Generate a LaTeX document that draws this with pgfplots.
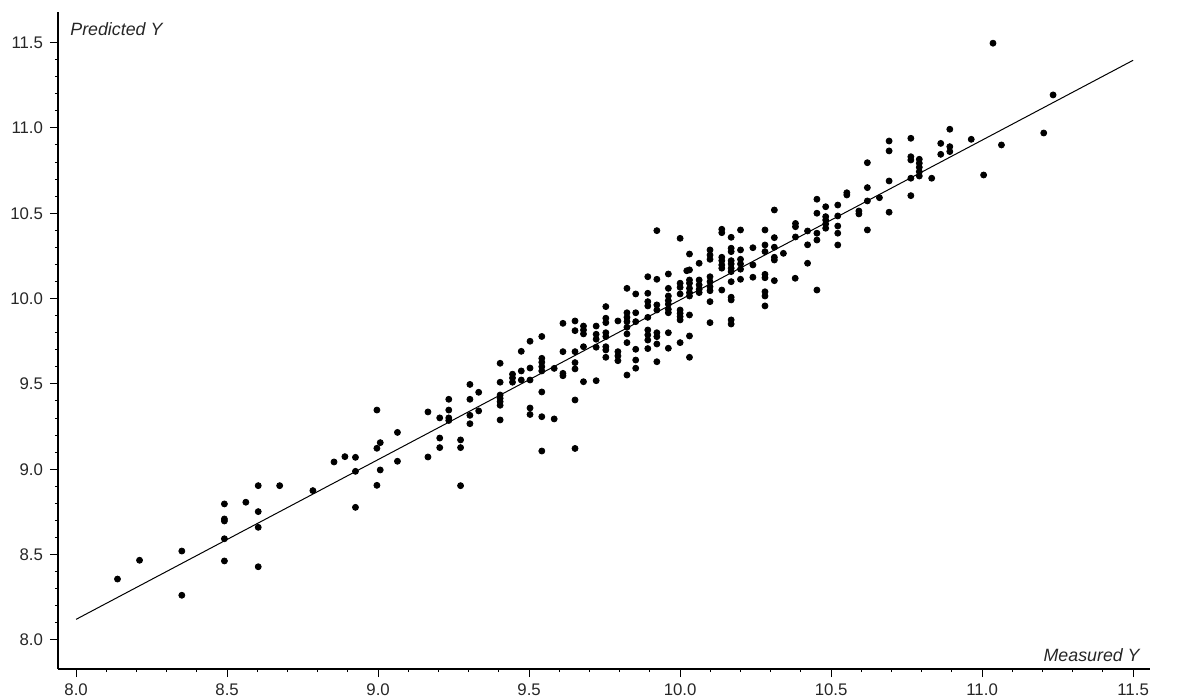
\documentclass[border=0pt]{standalone}
\usepackage{pgfplots}
\pgfplotsset{compat=1.18}
\usepackage{fontspec}
\setmainfont{Liberation Sans}
\begin{document}
\begin{tikzpicture}
\useasboundingbox (-29bp,-15bp) rectangle (565bp,334.5bp);
\begin{axis}[
  at={(0,0)}, anchor=south west,
  x=151bp, y=85.35bp,
  xmin=7.94, xmax=11.556, ymin=7.83, ymax=11.679,
  axis x line=bottom, axis y line=left,
  axis line style={-, black, line width=0.6bp},
  xtick={8,8.5,9,9.5,10,10.5,11,11.5},
  xticklabels={8.0,8.5,9.0,9.5,10.0,10.5,11.0,11.5},
  ytick={8,8.5,9,9.5,10,10.5,11,11.5},
  yticklabels={8.0,8.5,9.0,9.5,10.0,10.5,11.0,11.5},
  minor x tick num=4, minor y tick num=4,
  tick align=outside,
  major tick length=4bp, minor tick length=1.5bp,
  tick style={black, line width=0.5bp},
  ticklabel style={font=\fontsize{8.4bp}{10bp}\selectfont, text=black!85},
  clip=false,
]
\addplot[only marks, mark=*, mark size=1.5bp, black] table {
x y
8.137 8.357
8.210 8.467
8.350 8.521
8.350 8.262
8.491 8.797
8.491 8.709
8.491 8.697
8.491 8.593
8.491 8.463
8.562 8.807
8.603 8.904
8.603 8.752
8.603 8.660
8.603 8.429
8.674 8.904
8.784 8.875
8.854 9.043
8.890 9.074
8.925 9.070
8.925 8.988
8.925 8.777
8.996 9.347
8.996 9.123
8.996 8.906
9.007 9.156
9.007 8.996
9.064 9.216
9.064 9.047
9.165 9.336
9.165 9.072
9.204 9.301
9.204 9.183
9.204 9.127
9.234 9.410
9.234 9.347
9.234 9.301
9.234 9.286
9.273 9.172
9.273 9.127
9.273 8.904
9.304 9.497
9.304 9.410
9.304 9.316
9.304 9.267
9.333 9.451
9.333 9.342
9.404 9.621
9.404 9.510
9.404 9.435
9.404 9.416
9.404 9.396
9.404 9.375
9.404 9.289
9.445 9.557
9.445 9.535
9.445 9.510
9.474 9.691
9.474 9.576
9.474 9.523
9.503 9.750
9.503 9.593
9.503 9.523
9.503 9.359
9.503 9.321
9.542 9.778
9.542 9.650
9.542 9.627
9.542 9.601
9.542 9.576
9.542 9.453
9.542 9.308
9.542 9.107
9.583 9.591
9.583 9.295
9.612 9.855
9.612 9.689
9.612 9.562
9.612 9.548
9.652 9.869
9.652 9.812
9.652 9.689
9.652 9.625
9.652 9.588
9.652 9.406
9.652 9.122
9.680 9.839
9.680 9.816
9.680 9.793
9.680 9.718
9.680 9.513
9.722 9.839
9.722 9.791
9.722 9.762
9.722 9.715
9.722 9.519
9.754 9.953
9.754 9.885
9.754 9.859
9.754 9.800
9.754 9.777
9.754 9.718
9.754 9.699
9.754 9.656
9.794 9.869
9.794 9.689
9.794 9.664
9.794 9.636
9.824 10.060
9.824 9.917
9.824 9.890
9.824 9.865
9.824 9.832
9.824 9.793
9.824 9.742
9.824 9.552
9.853 10.027
9.853 9.917
9.853 9.865
9.853 9.703
9.853 9.640
9.853 9.592
9.893 10.128
9.893 10.031
9.893 9.982
9.893 9.957
9.893 9.890
9.893 9.816
9.893 9.787
9.893 9.757
9.893 9.707
9.923 10.113
9.923 9.963
9.923 9.933
9.923 9.800
9.923 9.777
9.923 9.734
9.923 9.630
9.923 10.398
9.961 10.144
9.961 10.060
9.961 10.015
9.961 9.988
9.961 9.967
9.961 9.937
9.961 9.917
9.961 9.800
9.961 9.709
10.000 10.353
10.000 10.090
10.000 10.066
10.000 10.027
10.000 9.933
10.000 9.914
10.000 9.894
10.000 9.875
10.000 9.742
10.031 10.261
10.031 10.168
10.022 10.163
10.031 10.109
10.031 10.090
10.031 10.060
10.031 10.035
10.031 10.015
10.031 9.904
10.031 9.781
10.031 9.656
10.063 10.207
10.063 10.109
10.063 10.080
10.063 10.054
10.063 10.035
10.099 10.285
10.099 10.255
10.099 10.230
10.099 10.128
10.099 10.099
10.099 10.070
10.099 10.046
10.099 9.982
10.099 9.859
10.138 10.406
10.138 10.386
10.138 10.242
10.138 10.222
10.138 10.197
10.138 10.178
10.138 10.050
10.169 10.359
10.169 10.295
10.169 10.275
10.169 10.222
10.169 10.203
10.169 10.178
10.169 10.158
10.169 10.099
10.169 10.008
10.169 9.992
10.169 9.875
10.169 9.851
10.200 10.402
10.200 10.285
10.200 10.230
10.200 10.203
10.200 10.172
10.200 10.113
10.241 10.298
10.241 10.197
10.241 10.125
10.281 10.402
10.281 10.314
10.281 10.275
10.281 10.142
10.281 10.122
10.281 10.040
10.281 10.015
10.281 9.957
10.312 10.519
10.312 10.357
10.312 10.301
10.312 10.242
10.312 10.226
10.312 10.105
10.342 10.265
10.382 10.440
10.382 10.421
10.382 10.361
10.381 10.119
10.422 10.396
10.422 10.315
10.422 10.207
10.453 10.582
10.453 10.500
10.453 10.383
10.453 10.343
10.453 10.050
10.482 10.538
10.482 10.480
10.482 10.460
10.482 10.437
10.482 10.412
10.522 10.548
10.522 10.484
10.522 10.425
10.522 10.383
10.522 10.314
10.552 10.620
10.552 10.607
10.592 10.513
10.592 10.496
10.620 10.796
10.620 10.650
10.620 10.572
10.620 10.402
10.660 10.591
10.692 10.923
10.692 10.865
10.692 10.689
10.692 10.506
10.764 10.939
10.764 10.831
10.764 10.812
10.764 10.705
10.764 10.603
10.792 10.816
10.792 10.793
10.792 10.769
10.792 10.743
10.792 10.718
10.833 10.705
10.863 10.909
10.863 10.845
10.893 10.992
10.893 10.890
10.893 10.861
10.964 10.933
11.005 10.724
11.036 11.496
11.064 10.900
11.204 10.970
11.235 11.193
};
\addplot[black, line width=0.5bp] coordinates {(8.0,8.121) (11.5,11.396)};
\node[anchor=base west, font=\fontsize{8.9bp}{10bp}\selectfont\itshape, text=black!85, inner sep=0pt]
  at (axis description cs:0,1) [xshift=6bp, yshift=-12bp] {Predicted Y};
\node[anchor=base east, font=\fontsize{8.9bp}{10bp}\selectfont\itshape, text=black!85, inner sep=0pt]
  at (axis description cs:1,0) [xshift=-5bp, yshift=3.7bp] {Measured Y};
\end{axis}
\end{tikzpicture}
\end{document}
